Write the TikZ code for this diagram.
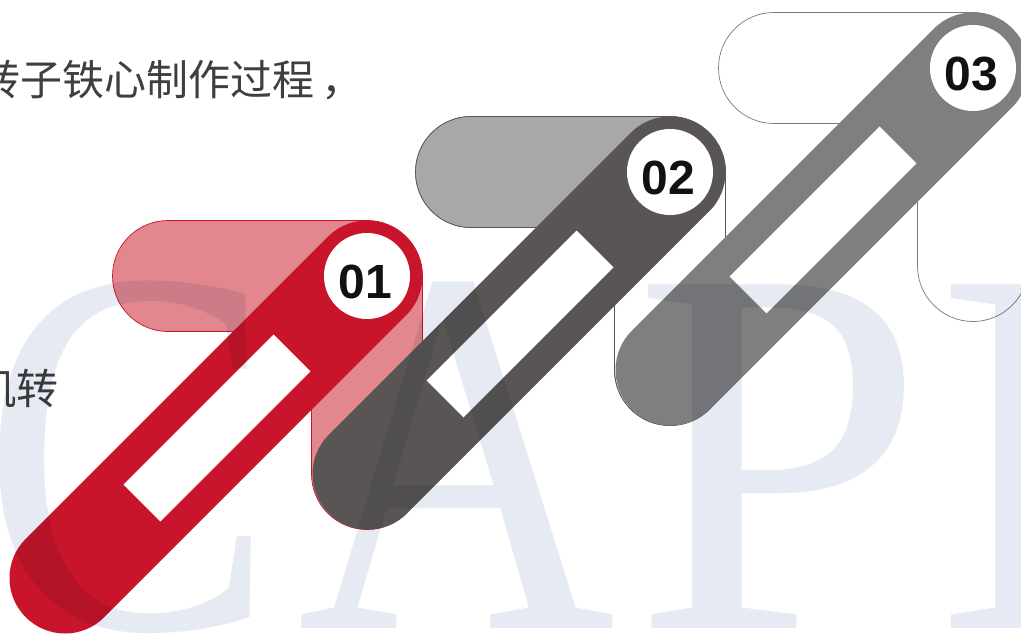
\documentclass[tikz,border=0pt]{standalone}
\usepackage{fontspec}
\newfontfamily\cjk{Noto Sans CJK SC}
\newfontfamily\wmfont{Liberation Serif}
\newfontfamily\numfont{Liberation Sans}
\usetikzlibrary{calc}

\definecolor{redA}{HTML}{C8152B}
\definecolor{pinkA}{HTML}{E3878F}
\definecolor{grayB}{HTML}{595554}
\definecolor{lgrayB}{HTML}{A9A8A8}
\definecolor{grayC}{HTML}{7F7F7F}
\definecolor{lineC}{HTML}{7A7A7A}
\definecolor{txtgray}{HTML}{3F3F3F}
\definecolor{wm}{HTML}{E6EAF2}
\definecolor{numblack}{HTML}{111111}

% L-shaped folded band behind each step (centre of the badge = #1,#2)
\newcommand\LShape[2]{(#1-199,#2-55.5) -- (#1,#2-55.5) arc[start angle=-90,end angle=0,radius=55.5]
  -- (#1+55.5,#2+198) arc[start angle=0,end angle=180,radius=55.5]
  -- (#1-55.5,#2+55.5) -- (#1-199,#2+55.5) arc[start angle=90,end angle=270,radius=55.5] -- cycle}
\newcommand\HPill[2]{(#1-199,#2-55.5) -- (#1,#2-55.5) arc[start angle=-90,end angle=90,radius=55.5]
  -- (#1-199,#2+55.5) arc[start angle=90,end angle=270,radius=55.5] -- cycle}

\tikzset{
  diag/.style={line width=111pt, line cap=round},
  badge/.style={circle, fill=white, minimum size=86pt, inner sep=0pt},
  num/.style={font=\numfont\bfseries\fontsize{48}{48}\selectfont, text=numblack, inner sep=0pt},
  cjktext/.style={font=\cjk\fontsize{42}{42}\selectfont, text=txtgray, inner sep=0pt},
  wmletter/.style={font=\wmfont\fontsize{525}{525}\selectfont, text=wm, inner sep=0pt, anchor=base},
  slot/.style={fill=white},
}

\begin{document}
\begin{tikzpicture}[x=1pt,y=-1pt]
\useasboundingbox (0,0) rectangle (1021,634);
\clip (0,0) rectangle (1021,634);
\fill[white] (0,0) rectangle (1021,634);

% text fragments
\node[cjktext, anchor=west] (t1) at (-22,80.5) {转子铁心制作过程\kern7pt，};
\node[cjktext, anchor=east] (t2) at (59,389) {机转};

% badge centres
\coordinate (c1) at (367,276);
\coordinate (c2) at (670,172);
\coordinate (c3) at (973,68);
\coordinate (e1) at ($(c1)+(-302,302)$);
\coordinate (e2) at ($(c2)+(-302,302)$);
\coordinate (e3) at ($(c3)+(-302,302)$);

% folded bands
\filldraw[fill=white, draw=lineC, line width=0.7pt] \LShape{973}{68};
\filldraw[fill=white, draw=grayB, line width=0.7pt] \LShape{670}{172};
\fill[lgrayB] \HPill{670}{172};
\draw[grayB, line width=0.7pt] \LShape{670}{172};
\filldraw[fill=pinkA, draw=redA, line width=0.7pt] \LShape{367}{276};

% diagonal bars
\draw[diag, redA] (c1) -- (e1);
\draw[diag, grayB] (c2) -- (e2);
\draw[diag, grayC] (c3) -- (e3);

% white slots
\fill[slot] ($(c1)+(-206.6,245.4)$) -- ++(-36.8,-36.8) -- ++(150,-150) -- ++(36.8,36.8) -- cycle;
\fill[slot] ($(c2)+(-206.6,245.4)$) -- ++(-36.8,-36.8) -- ++(150,-150) -- ++(36.8,36.8) -- cycle;
\fill[slot] ($(c3)+(-206.6,245.4)$) -- ++(-36.8,-36.8) -- ++(150,-150) -- ++(36.8,36.8) -- cycle;

% badges
\node[badge] (b1) at (c1) {};
\node[badge] (b2) at (c2) {};
\node[badge] (b3) at (c3) {};
\node[num] (n1) at ($(c1)+(-1.5,6)$) {01};
\node[num] (n2) at ($(c2)+(-1.5,6)$) {02};
\node[num] (n3) at ($(c3)+(-1.5,6)$) {03};

% watermark
\begin{scope}[blend mode=multiply]
\node[wmletter] (wC) at (129,628) {\scalebox{0.84}[1]{C}};
\node[wmletter] (wA) at (457,628) {\scalebox{0.84}[1]{A}};
\node[wmletter] (wP) at (779,628) {P};
\node[wmletter] (wI) at (1020,628) {I};
\end{scope}
\end{tikzpicture}
\end{document}
